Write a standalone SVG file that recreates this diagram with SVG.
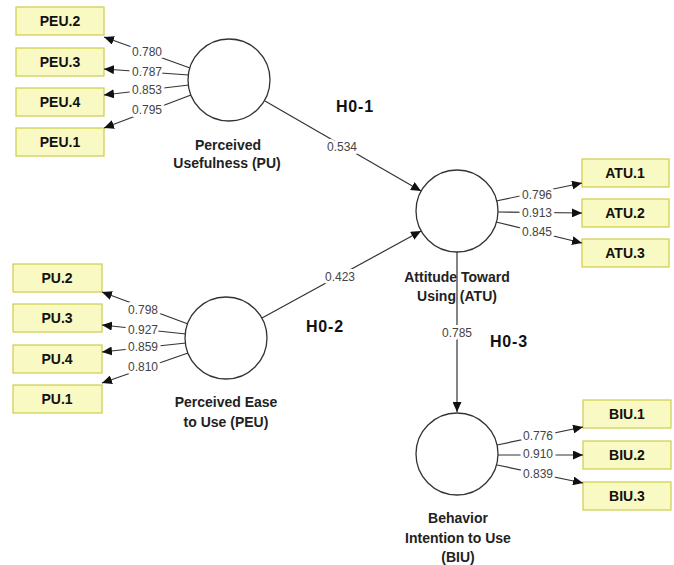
<svg xmlns="http://www.w3.org/2000/svg" width="674" height="565" viewBox="0 0 674 565">
<style>
.box{fill:#f9f9c4;stroke:#cdcd4a;stroke-width:1.2}
.bt{font-family:"Liberation Sans",Arial,sans-serif;font-weight:bold;font-size:14px;fill:#111;text-anchor:middle}
.lv{fill:#fff;stroke:#333;stroke-width:1.3}
.nt{font-family:"Liberation Sans",Arial,sans-serif;font-weight:bold;font-size:14px;fill:#222;text-anchor:middle}
.h{font-family:"Liberation Sans",Arial,sans-serif;font-weight:bold;font-size:16px;fill:#111;letter-spacing:0.8px}
.c{stroke:#333;stroke-width:1.2;fill:none;marker-end:url(#ah)}
.pl{font-family:"Liberation Sans",Arial,sans-serif;font-size:12px;fill:#444;text-anchor:middle;stroke:#fff;stroke-width:6px;paint-order:stroke;stroke-linejoin:round}
</style>
<defs>
<marker id="ah" markerWidth="11" markerHeight="9" refX="10" refY="4.5" orient="auto" markerUnits="userSpaceOnUse">
<path d="M0,0 L10,4.5 L0,9 z" fill="#111"/>
</marker>
</defs>
<rect width="674" height="565" fill="#fff"/>

<g id="PEU2"><rect class="box" x="16" y="7" width="88" height="28"/><text class="bt" x="60" y="26">PEU.2</text></g>
<g id="PEU3"><rect class="box" x="16" y="48" width="88" height="28"/><text class="bt" x="60" y="67">PEU.3</text></g>
<g id="PEU4"><rect class="box" x="16" y="88" width="88" height="28"/><text class="bt" x="60" y="107">PEU.4</text></g>
<g id="PEU1"><rect class="box" x="16" y="128" width="88" height="28"/><text class="bt" x="60" y="147">PEU.1</text></g>

<g id="PU2"><rect class="box" x="13" y="264" width="89" height="28"/><text class="bt" x="57" y="283">PU.2</text></g>
<g id="PU3"><rect class="box" x="13" y="304" width="89" height="28"/><text class="bt" x="57" y="323">PU.3</text></g>
<g id="PU4"><rect class="box" x="13" y="345" width="89" height="28"/><text class="bt" x="57" y="364">PU.4</text></g>
<g id="PU1"><rect class="box" x="13" y="385" width="89" height="28"/><text class="bt" x="57" y="404">PU.1</text></g>

<g id="ATU1"><rect class="box" x="582" y="159" width="87" height="28"/><text class="bt" x="625" y="178">ATU.1</text></g>
<g id="ATU2"><rect class="box" x="582" y="199" width="87" height="28"/><text class="bt" x="625" y="218">ATU.2</text></g>
<g id="ATU3"><rect class="box" x="582" y="239" width="87" height="28"/><text class="bt" x="625" y="258">ATU.3</text></g>

<g id="BIU1"><rect class="box" x="583" y="400" width="88" height="28"/><text class="bt" x="627" y="419">BIU.1</text></g>
<g id="BIU2"><rect class="box" x="583" y="441" width="88" height="28"/><text class="bt" x="627" y="460">BIU.2</text></g>
<g id="BIU3"><rect class="box" x="583" y="482" width="88" height="28"/><text class="bt" x="627" y="501">BIU.3</text></g>

<g id="PU"><circle class="lv" cx="229" cy="80" r="41"/><text class="nt" x="228" y="150">Perceived</text><text class="nt" x="227" y="168">Usefulness (PU)</text></g>
<g id="PEU"><circle class="lv" cx="226" cy="338" r="41"/><text class="nt" x="226" y="407">Perceived Ease</text><text class="nt" x="226" y="427">to Use (PEU)</text></g>
<g id="ATU"><circle class="lv" cx="457" cy="211" r="41"/><text class="nt" x="457" y="282">Attitude Toward</text><text class="nt" x="457" y="301">Using (ATU)</text></g>
<g id="BIU"><circle class="lv" cx="457" cy="454" r="41"/><text class="nt" x="458" y="523">Behavior</text><text class="nt" x="458" y="543">Intention to Use</text><text class="nt" x="458" y="562">(BIU)</text></g>

<g id="hyp">
<text class="h" x="336" y="112">H0-1</text>
<text class="h" x="306" y="332">H0-2</text>
<text class="h" x="490" y="347">H0-3</text>
</g>

<g id="connectors">
<line class="c" x1="190" y1="68" x2="104" y2="37"/>
<line class="c" x1="189" y1="75" x2="104" y2="69"/>
<line class="c" x1="189" y1="85" x2="104" y2="95"/>
<line class="c" x1="191" y1="95" x2="104" y2="128"/>

<line class="c" x1="188" y1="324" x2="102" y2="292"/>
<line class="c" x1="186" y1="334" x2="102" y2="325"/>
<line class="c" x1="186" y1="343" x2="102" y2="352"/>
<line class="c" x1="188" y1="353" x2="102" y2="383"/>

<line class="c" x1="496" y1="201" x2="582" y2="183"/>
<line class="c" x1="498" y1="212" x2="582" y2="213"/>
<line class="c" x1="496" y1="222" x2="582" y2="243"/>

<line class="c" x1="497" y1="445" x2="583" y2="427"/>
<line class="c" x1="498" y1="455" x2="583" y2="455"/>
<line class="c" x1="497" y1="465" x2="583" y2="483"/>

<line class="c" x1="265" y1="101" x2="421" y2="191"/>
<line class="c" x1="262" y1="318" x2="421" y2="231"/>
<line class="c" x1="457" y1="252" x2="457" y2="412"/>

<text class="pl" x="147" y="56">0.780</text>
<text class="pl" x="147" y="76">0.787</text>
<text class="pl" x="147" y="94">0.853</text>
<text class="pl" x="147" y="114">0.795</text>

<text class="pl" x="143" y="314">0.798</text>
<text class="pl" x="143" y="334">0.927</text>
<text class="pl" x="143" y="351">0.859</text>
<text class="pl" x="143" y="371">0.810</text>

<text class="pl" x="537" y="199">0.796</text>
<text class="pl" x="537" y="217">0.913</text>
<text class="pl" x="537" y="236">0.845</text>

<text class="pl" x="538" y="440">0.776</text>
<text class="pl" x="538" y="458">0.910</text>
<text class="pl" x="538" y="478">0.839</text>

<text class="pl" x="342" y="151">0.534</text>
<text class="pl" x="340" y="281">0.423</text>
<text class="pl" x="457" y="337">0.785</text>
</g>
</svg>
